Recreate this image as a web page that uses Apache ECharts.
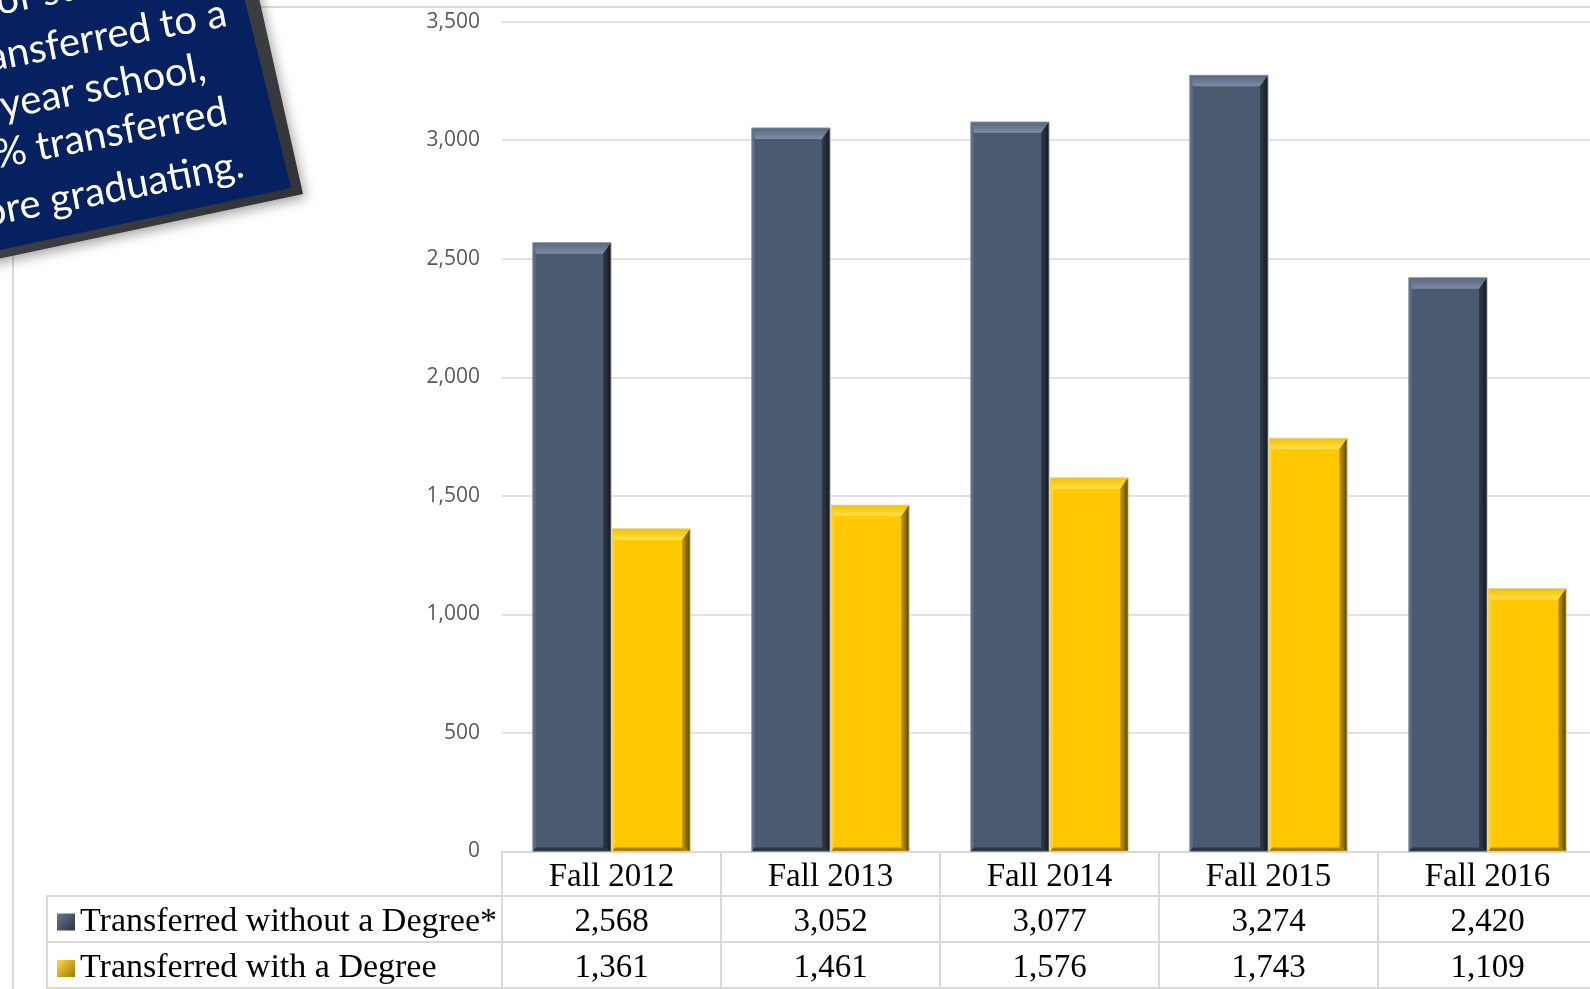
<!DOCTYPE html>
<html>
<head>
<meta charset="utf-8">
<script src="https://cdn.jsdelivr.net/npm/echarts@6/dist/echarts.min.js"></script>
<style>
html,body{margin:0;padding:0;background:#fff;}
#chart{width:1590px;height:989px;}
</style>
</head>
<body>
<div id="chart"></div>
<script>
// ---- data ----
const categories = ['Fall 2012', 'Fall 2013', 'Fall 2014', 'Fall 2015', 'Fall 2016'];
const withoutDegree = [2568, 3052, 3077, 3274, 2420];
const withDegree = [1361, 1461, 1576, 1743, 1109];
const seriesNames = ['Transferred without a Degree*', 'Transferred with a Degree'];
const yMin = 0, yMax = 3500, yStep = 500;
const calloutLines = ['of students who', 'transferred to a', 'four year school,', '43% transferred', 'before graduating.'];

// ---- helpers ----
const fmt = v => v.toLocaleString('en-US');
const LG = (x0, y0, x1, y1, a, b) => new echarts.graphic.LinearGradient(x0, y0, x1, y1, [{offset: 0, color: a}, {offset: 1, color: b}]);
const BAR_FRAC = 0.357;

const palDark = {main: '#4a5a71', topA: '#56667e', topB: '#7e8da4', rightA: '#323c4c', rightB: '#141921',
  left: '#5c6b82', bottom: '#2c3544', edge: 'rgba(140,150,165,0.9)'};
const palGold = {main: '#ffc800', topA: '#f2c000', topB: '#ffe14d', rightA: '#c99b00', rightB: '#5a4400',
  left: '#ffd12e', bottom: '#a88200', edge: 'rgba(230,215,160,0.9)'};

function makeRender(side, pal) {
  return function (params, api) {
    const ci = api.value(0), v = api.value(1);
    const p = api.coord([ci, v]);
    const b = api.coord([ci, 0]);
    const cw = api.size([1, 0])[0];
    const w = cw * BAR_FRAC;
    const x0 = side < 0 ? p[0] - w - 0.5 : p[0] + 0.5;
    const x1 = x0 + w, y0 = p[1], y1 = b[1];
    const t = 11, r = 8, l = 3, bt = 4;
    return {
      type: 'group',
      children: [
        {type: 'rect', shape: {x: x0, y: y0, width: w, height: y1 - y0}, style: {fill: pal.main}},
        {type: 'polygon', shape: {points: [[x0, y0], [x1, y0], [x1 - r, y0 + t], [x0 + l, y0 + t]]},
          style: {fill: LG(0, 0, 0, 1, pal.topA, pal.topB)}},
        {type: 'polygon', shape: {points: [[x1, y0], [x1, y1], [x1 - r, y1 - bt], [x1 - r, y0 + t]]},
          style: {fill: LG(0, 0, 1, 0, pal.rightA, pal.rightB)}},
        {type: 'polygon', shape: {points: [[x0, y0], [x0 + l, y0 + t], [x0 + l, y1 - bt], [x0, y1]]},
          style: {fill: pal.left}},
        {type: 'polygon', shape: {points: [[x0, y1], [x0 + l, y1 - bt], [x1 - r, y1 - bt], [x1, y1]]},
          style: {fill: pal.bottom}},
        {type: 'rect', shape: {x: x0, y: y0, width: w, height: y1 - y0},
          style: {fill: null, stroke: pal.edge, lineWidth: 1}}
      ]
    };
  };
}

const serifFont = '"Liberation Serif", "Times New Roman", serif';
const lineColor = '#d9d9d9';
const ROT = 0.19;

const calloutAnchors = [
  {x: -4, y: 2, align: 'left'},
  {x: 226, y: 13, align: 'right'},
  {x: 205, y: 67, align: 'right'},
  {x: 227, y: 111, align: 'right'},
  {x: 243, y: 164, align: 'right'}
];

const chart = echarts.init(document.getElementById('chart'), null, {renderer: 'canvas'});

const option = {
  animation: false,
  backgroundColor: '#ffffff',
  grid: {left: 502, top: 21.7, width: 1095, height: 829.8, containLabel: false, outerBoundsMode: 'none'},
  legend: {
    orient: 'vertical', left: 57, top: 905, padding: 0,
    itemWidth: 18, itemHeight: 17, itemGap: 12.5,
    icon: 'rect', selectedMode: false,
    textStyle: {fontFamily: serifFont, fontSize: 34, color: '#000', lineHeight: 34},
    data: [
      {name: seriesNames[0], itemStyle: {color: LG(0, 0, 1, 1, '#6a7890', '#2a3344')}},
      {name: seriesNames[1], itemStyle: {color: LG(0, 0, 1, 1, '#ffd84a', '#a07a00')}}
    ]
  },
  xAxis: [
    {
      type: 'category', data: categories, position: 'bottom', boundaryGap: true,
      axisLine: {show: true, lineStyle: {color: lineColor, width: 2}},
      axisTick: {show: true, interval: 0, length: 138, lineStyle: {color: lineColor, width: 2}},
      axisLabel: {margin: 9, fontFamily: serifFont, fontSize: 33, color: '#000', interval: 0},
      splitLine: {show: false}
    },
    {
      type: 'category', data: withoutDegree.map(fmt), position: 'bottom', offset: 45,
      axisLine: {show: false}, axisTick: {show: false},
      axisLabel: {margin: 9, fontFamily: serifFont, fontSize: 33, color: '#000', interval: 0}
    },
    {
      type: 'category', data: withDegree.map(fmt), position: 'bottom', offset: 91.5,
      axisLine: {show: false}, axisTick: {show: false},
      axisLabel: {margin: 9, fontFamily: serifFont, fontSize: 33, color: '#000', interval: 0}
    }
  ],
  yAxis: {
    type: 'value', min: yMin, max: yMax, interval: yStep,
    axisLine: {show: false}, axisTick: {show: false},
    axisLabel: {margin: 22, fontFamily: '"Open Sans", sans-serif', fontSize: 21, color: '#595959',
      formatter: v => fmt(v)},
    splitLine: {lineStyle: {color: lineColor, width: 1.5}}
  },
  series: [
    {
      name: seriesNames[0], type: 'custom', xAxisIndex: 0, yAxisIndex: 0,
      encode: {x: 0, y: 1},
      itemStyle: {color: palDark.main},
      renderItem: makeRender(-1, palDark),
      data: withoutDegree.map((v, i) => [i, v])
    },
    {
      name: seriesNames[1], type: 'custom', xAxisIndex: 0, yAxisIndex: 0,
      encode: {x: 0, y: 1},
      itemStyle: {color: palGold.main},
      renderItem: makeRender(1, palGold),
      data: withDegree.map((v, i) => [i, v])
    }
  ],
  graphic: [
    // chart-area border
    {type: 'rect', z: 0, shape: {x: 13, y: 7, width: 1700, height: 1200},
      style: {fill: null, stroke: lineColor, lineWidth: 2}},
    // table lines
    {type: 'polyline', z: 1, shape: {points: [[1600, 896], [47, 896], [47, 995]]},
      style: {stroke: lineColor, lineWidth: 2, fill: null}},
    {type: 'line', z: 1, shape: {x1: 47, y1: 942, x2: 1600, y2: 942},
      style: {stroke: lineColor, lineWidth: 2}},
    {type: 'line', z: 1, shape: {x1: 47, y1: 988, x2: 1600, y2: 988},
      style: {stroke: lineColor, lineWidth: 2}},
    // callout box shadow + bevel
    {type: 'polygon', z: 50, shape: {points: [[303, 194], [-40, 267], [-40, -60], [246, -60]]},
      style: {fill: LG(0, 0, 1, 1, '#4a4d52', '#2e3034'),
        shadowBlur: 12, shadowColor: 'rgba(0,0,0,0.35)', shadowOffsetX: 3, shadowOffsetY: 4}},
    {type: 'polygon', z: 51, shape: {points: [[291, 188], [-40, 258.5], [-40, -60], [230, -60]]},
      style: {fill: '#06215f'}},
    ...calloutLines.map((t, i) => ({
      type: 'text', z: 52, x: calloutAnchors[i].x, y: calloutAnchors[i].y, rotation: ROT,
      style: {text: t, fill: '#ffffff', font: '40px Lato', align: calloutAnchors[i].align, verticalAlign: 'middle'}
    }))
  ]
};
chart.setOption(option);
</script>
</body>
</html>
